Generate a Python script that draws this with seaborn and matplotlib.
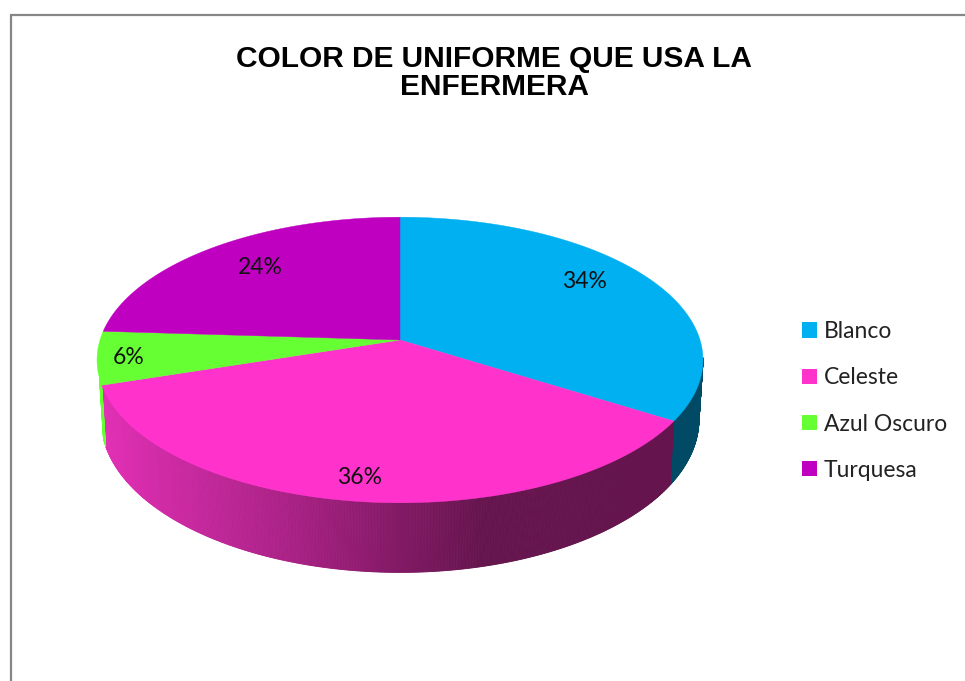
import numpy as np
import matplotlib
matplotlib.use('Agg')
import matplotlib.pyplot as plt
from matplotlib.patches import Patch
import seaborn as sns

# Chart data
title = 'COLOR DE UNIFORME QUE USA LA\nENFERMERA'
categories = ['Blanco', 'Celeste', 'Azul Oscuro', 'Turquesa']
percent = [34, 36, 6, 24]
colors = ['#00B0F0', '#FF33CC', '#66FF33', '#C000C0']

# Where the percent labels sit, in pixels
label_x = [584, 360, 129, 260]
label_y = [282, 477, 357, 267]

# Shape of the tilted pie, in pixels (perspective comes from persp)
cx = 400
top_cy, top_a, top_b = 340, 300, 140
bot_cy, bot_a, bot_b = 398, 296, 150
persp = 0.14

sns.set_theme(style='white')
plt.rcParams['font.family'] = ['Lato', 'DejaVu Sans']


def rim(theta, cy, a, b):
    # theta in degrees, clockwise from the top of the pie
    t = np.radians(theta)
    u, v = np.sin(t), np.cos(t)
    w = 1 + persp * v
    return cx + a * u / w, cy - b * v / w


fig = plt.figure(figsize=(9.65, 6.81), dpi=100)
ax = fig.add_axes([0, 0, 1, 1])
ax.set_xlim(0, 965)
ax.set_ylim(681, 0)
ax.axis('off')

# Outer chart border, cut off on the right and at the bottom
ax.plot([10.5, 10.5, 965], [681, 14.5, 14.5], color='#868686', lw=1.6, solid_joinstyle='miter')

edges = np.cumsum([0] + percent) * 3.6

# Side wall: the pink slice shades from left to right
shade = sns.blend_palette(['#E030B4', '#A82084', '#65144D', '#65144D'], 256)


def wall(start, end, color=None):
    angles = np.linspace(start, end, int(abs(end - start) * 4) + 2)
    for t0, t1 in zip(angles[:-1], angles[1:]):
        x0, y0 = rim(t0, top_cy, top_a, top_b)
        x1, y1 = rim(t1, top_cy, top_a, top_b)
        x2, y2 = rim(t1, bot_cy, bot_a, bot_b)
        x3, y3 = rim(t0, bot_cy, bot_a, bot_b)
        c = color
        if c is None:
            pos = np.clip((x0 - 105) / (670 - 105), 0, 1)
            c = shade[int(pos * 255)]
        ax.fill([x0, x1, x2, x3], [y0, y1, y2, y3], color=c, lw=0.6)


wall(97, edges[1], '#004A66')
wall(edges[1], edges[2])
wall(edges[2], edges[2] + 3, colors[2])

# Top face of the pie
for start, end, col in zip(edges[:-1], edges[1:], colors):
    angles = np.linspace(start, end, 200)
    xs, ys = rim(angles, top_cy, top_a, top_b)
    ax.fill(np.r_[cx, xs], np.r_[top_cy, ys], color=col, lw=0.3)

for x, y, p in zip(label_x, label_y, percent):
    ax.text(x, y, f'{p}%', ha='center', va='center', fontsize=16.5, color='#111111')

ax.text(494, 73, title, ha='center', va='center', fontsize=21.5, fontweight='bold',
        family='Liberation Sans', color='black', linespacing=1.0)

handles = [Patch(facecolor=c, edgecolor='none', label=n) for n, c in zip(categories, colors)]
ax.legend(handles=handles, loc='center left', bbox_to_anchor=(802, 401), bbox_transform=ax.transData,
          frameon=False, fontsize=16.5, borderpad=0, borderaxespad=0, labelspacing=1.1,
          handlelength=0.65, handleheight=0.65, handletextpad=0.3, labelcolor='#222222')

fig.savefig('out.png', dpi=100)
